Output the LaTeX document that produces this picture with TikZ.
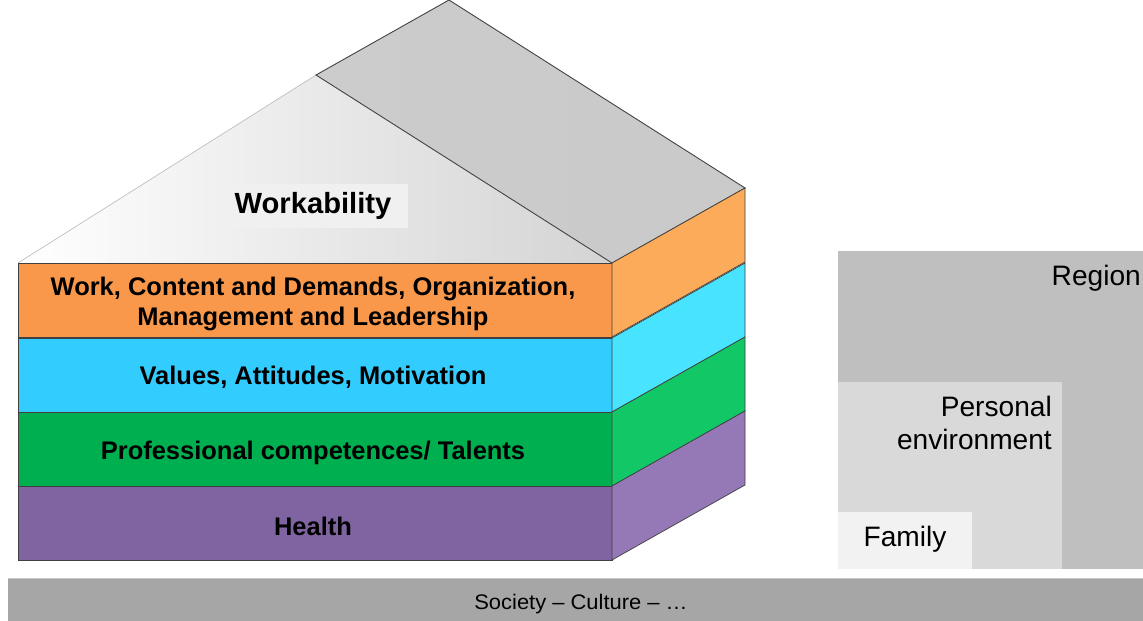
\documentclass[tikz,border=0pt]{standalone}
\usepackage{fontspec}
\setmainfont{Liberation Sans}

% layer colours (front / side)
\definecolor{workF}{HTML}{F9984A}
\definecolor{workS}{HTML}{FBAB59}
\definecolor{valF}{HTML}{33CCFF}
\definecolor{valS}{HTML}{47E3FF}
\definecolor{compF}{HTML}{00B050}
\definecolor{compS}{HTML}{12C765}
\definecolor{healF}{HTML}{8064A2}
\definecolor{healS}{HTML}{9479B6}
\definecolor{edge}{HTML}{404040}

\tikzset{
  layerlabel/.style={font=\bfseries\fontsize{14.5}{17.5}\selectfont, align=center},
  envlabel/.style={font=\fontsize{16}{18.5}\selectfont, align=right, anchor=north east}
}

\begin{document}
\begin{tikzpicture}[x=0.02cm,y=-0.02cm]

\useasboundingbox (0,0) rectangle (1143,621);

% Roof
\shade[left color=white, right color=black!17] (18,263) -- (316,75) -- (612,263) -- cycle;
\draw[black!25, line width=0.4pt] (18,263) -- (316,75);
\shade[left color=black!20, right color=black!21, draw=edge, line width=0.5pt]
  (316,75) -- (449,0) -- (745,188) -- (612,263) -- cycle;

% Layers
\foreach \yt/\fc/\sc in {263/workF/workS, 338/valF/valS, 412/compF/compS, 486/healF/healS}{
  \filldraw[fill=\fc, draw=edge, line width=0.5pt] (18,\yt) rectangle (612,\yt+74);
  \filldraw[fill=\sc, draw=edge, line width=0.4pt]
    (612,\yt) -- (745,\yt-75) -- (745,\yt-1) -- (612,\yt+74) -- cycle;
}

% Roof label
\node[fill=black!6, minimum width=190*0.02cm, minimum height=44*0.02cm,
  font=\bfseries\fontsize{16.6}{20}\selectfont] (workability) at (313,206) {Workability};

% Layer labels
\node[layerlabel] (work) at (313,304) {Work, Content and Demands, Organization,\\Management and Leadership};
\node[layerlabel] (values) at (313,377) {Values, Attitudes, Motivation};
\node[layerlabel] (comp) at (313,453) {Professional competences/ Talents};
\node[layerlabel] (health) at (313,526) {Health};

% Environment
\fill[black!25] (838,251) rectangle (1143,569);
\fill[black!15] (838,382) rectangle (1062,569);
\fill[black!5] (838,512) rectangle (972,569);
\node[envlabel] (region) at (1147,259) {Region};
\node[envlabel] (personal) at (1058,390) {Personal\\environment};
\node[font=\fontsize{16}{18.5}\selectfont] (family) at (905,539) {Family};

% Society
\fill[black!35] (8,578) rectangle (1143,621);
\draw[black!22] (8,578.5) -- (1143,578.5);
\node[font=\fontsize{12}{14}\selectfont, xscale=1.04] (society) at (581,604) {Society – Culture – …};

\end{tikzpicture}
\end{document}
